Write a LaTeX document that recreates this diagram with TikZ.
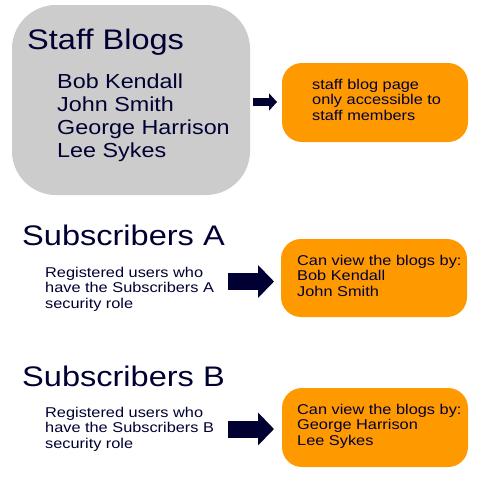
\documentclass[tikz,border=0pt]{standalone}
\usepackage{fontspec}
\setmainfont{Liberation Sans}[FakeStretch=1.15]
\usetikzlibrary{arrows.meta}
\definecolor{navy}{HTML}{000033}
\definecolor{greybox}{HTML}{CCCCCC}
\definecolor{orangebox}{HTML}{FF9900}
\begin{document}
\begin{tikzpicture}[x=1pt,y=-1pt,
  txt/.style={inner sep=0pt, anchor=base west, text=navy, align=left},
  title/.style={txt, font=\fontsize{28.3}{32}\selectfont},
  names/.style={txt, font=\fontsize{20.3}{23.3}\selectfont},
  small/.style={txt, font=\fontsize{14.2}{15.8}\selectfont},
  orbox/.style={fill=orangebox, rounded corners=20pt, draw=none},
  bigarrow/.style={draw=navy, line width=17pt, -{Triangle[length=16pt,width=32pt]}},
  smallarrow/.style={draw=navy, line width=8pt, -{Triangle[length=8pt,width=17pt]}}
]
\useasboundingbox (0,0) rectangle (500,482);
\fill[white] (0,0) rectangle (500,482);

% grey staff box
\fill[greybox, rounded corners=44pt] (12,5) rectangle (250,195);
\node[title] (stafft) at (27,49) {Staff Blogs};
\node[names] (staffn) at (57,88) {\begin{tabular}[t]{@{}l@{}}Bob Kendall\\John Smith\\George Harrison\\Lee Sykes\end{tabular}};

% orange box 1
\fill[orbox] (282,63) rectangle (468,142);
\node[small] (o1) at (312,89) {\begin{tabular}[t]{@{}l@{}}staff blog page\\only accessible to\\staff members\end{tabular}};
\coordinate (s1) at (253,102);
\coordinate (e1) at (277,102);
\draw[smallarrow] (s1) -- (e1);

% Subscribers A
\node[title] (subA) at (22,245) {Subscribers A};
\node[small] (regA) at (45,277) {\begin{tabular}[t]{@{}l@{}}Registered users who\\have the Subscribers A\\security role\end{tabular}};
\fill[orbox] (281,239) rectangle (467,317);
\node[small] (oA) at (297,265) {\begin{tabular}[t]{@{}l@{}}Can view the blogs by:\\Bob Kendall\\John Smith\end{tabular}};
\coordinate (sA) at (228,281.5);
\coordinate (eA) at (274,281.5);
\draw[bigarrow] (sA) -- (eA);

% Subscribers B
\node[title] (subB) at (22,386) {Subscribers B};
\node[small] (regB) at (45,417) {\begin{tabular}[t]{@{}l@{}}Registered users who\\have the Subscribers B\\security role\end{tabular}};
\fill[orbox] (282,388) rectangle (468,467);
\node[small] (oB) at (297,414) {\begin{tabular}[t]{@{}l@{}}Can view the blogs by:\\George Harrison\\Lee Sykes\end{tabular}};
\coordinate (sB) at (228,429);
\coordinate (eB) at (274,429);
\draw[bigarrow] (sB) -- (eB);
\end{tikzpicture}
\end{document}
